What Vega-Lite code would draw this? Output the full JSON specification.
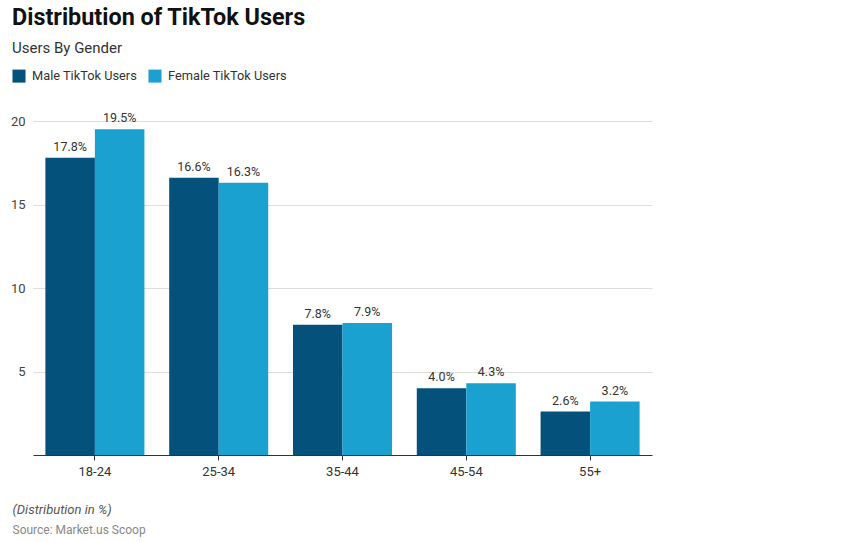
{
  "$schema": "https://vega.github.io/schema/vega-lite/v6.json",
  "width": 619,
  "height": 334,
  "autosize": {"type": "none"},
  "padding": {"left": 33, "top": 121, "right": 189, "bottom": 87},
  "background": "white",
  "config": {"font": "Roboto", "view": {"stroke": null}},
  "title": {
    "text": "Distribution of TikTok Users",
    "subtitle": "Users By Gender",
    "anchor": "start",
    "frame": "group",
    "dx": -21,
    "offset": 12,
    "font": "Roboto",
    "fontSize": 23.4,
    "fontWeight": "bold",
    "color": "#111111",
    "subtitleFont": "Roboto",
    "subtitleFontSize": 15,
    "subtitleColor": "#333333",
    "subtitlePadding": 11
  },
  "data": {
    "values": [
      {"age": "18-24", "gender": "Male TikTok Users", "value": 17.8},
      {"age": "18-24", "gender": "Female TikTok Users", "value": 19.5},
      {"age": "25-34", "gender": "Male TikTok Users", "value": 16.6},
      {"age": "25-34", "gender": "Female TikTok Users", "value": 16.3},
      {"age": "35-44", "gender": "Male TikTok Users", "value": 7.8},
      {"age": "35-44", "gender": "Female TikTok Users", "value": 7.9},
      {"age": "45-54", "gender": "Male TikTok Users", "value": 4.0},
      {"age": "45-54", "gender": "Female TikTok Users", "value": 4.3},
      {"age": "55+", "gender": "Male TikTok Users", "value": 2.6},
      {"age": "55+", "gender": "Female TikTok Users", "value": 3.2}
    ]
  },
  "transform": [
    {"calculate": "format(datum.value, '.1f') + '%'", "as": "label"}
  ],
  "encoding": {
    "x": {
      "field": "age",
      "type": "nominal",
      "sort": null,
      "scale": {"paddingInner": 0.2, "paddingOuter": 0.1},
      "axis": {
        "title": "(Distribution in %)",
        "titleFont": "Roboto",
        "titleFontStyle": "italic",
        "titleFontWeight": "normal",
        "titleFontSize": 13,
        "titleColor": "#555555",
        "titleAlign": "left",
        "titleAnchor": "start",
        "titleBaseline": "alphabetic",
        "titleX": -21,
        "titleY": 58,
        "labelAngle": 0,
        "labelFontSize": 13,
        "labelColor": "#333333",
        "labelPadding": 5,
        "domainColor": "#333333",
        "tickColor": "#333333",
        "tickSize": 5,
        "grid": false
      }
    },
    "xOffset": {
      "field": "gender",
      "type": "nominal",
      "scale": {"domain": ["Male TikTok Users", "Female TikTok Users"], "paddingInner": 0, "paddingOuter": 0}
    },
    "y": {
      "field": "value",
      "type": "quantitative",
      "scale": {"domain": [0, 20], "nice": false},
      "axis": {
        "values": [5, 10, 15, 20],
        "title": "Source: Market.us Scoop",
        "titleFont": "Roboto",
        "titleFontWeight": "normal",
        "titleFontSize": 12,
        "titleColor": "#888888",
        "titleAngle": 0,
        "titleAlign": "left",
        "titleBaseline": "alphabetic",
        "titleX": -21,
        "titleY": 412,
        "labelFontSize": 13,
        "labelColor": "#444444",
        "labelPadding": 8,
        "ticks": false,
        "domain": false,
        "gridColor": "#dddddd",
        "gridWidth": 1
      }
    }
  },
  "layer": [
    {
      "mark": {"type": "bar"},
      "encoding": {
        "color": {
          "field": "gender",
          "type": "nominal",
          "scale": {"domain": ["Male TikTok Users", "Female TikTok Users"], "range": ["#04527B", "#1BA1CF"]},
          "legend": {
            "title": null,
            "orient": "none",
            "legendX": -21,
            "legendY": -52,
            "direction": "horizontal",
            "symbolType": "square",
            "symbolSize": 170,
            "symbolStrokeWidth": 0,
            "symbolOpacity": 1,
            "labelFontSize": 12.8,
            "labelColor": "#333333",
            "labelFont": "Roboto",
            "labelOffset": 6,
            "columnPadding": 10
          }
        }
      }
    },
    {
      "mark": {"type": "text", "baseline": "bottom", "dy": -4, "fontSize": 12.5, "color": "#333333", "font": "Roboto"},
      "encoding": {"text": {"field": "label"}}
    }
  ]
}
